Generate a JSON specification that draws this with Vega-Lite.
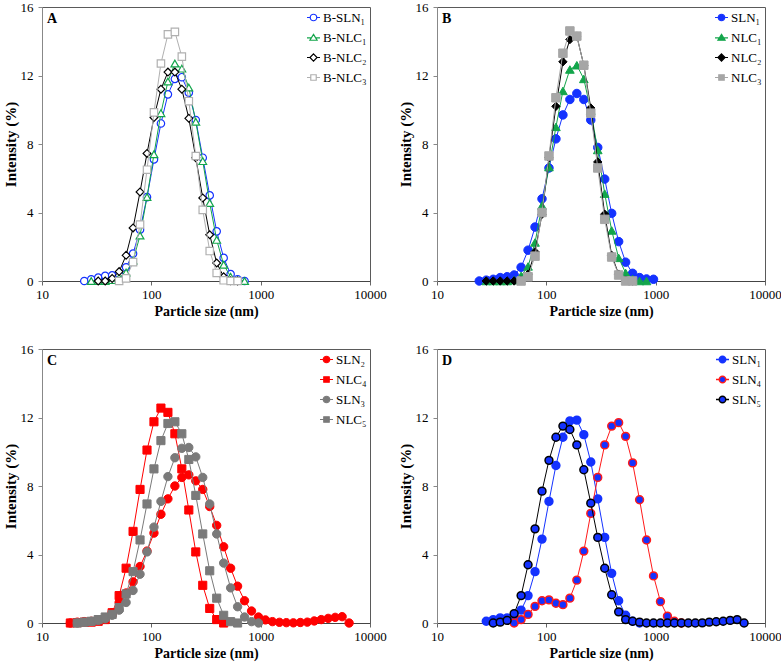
{
  "$schema": "https://vega.github.io/schema/vega-lite/v6.json",
  "autosize": {"type": "pad"},
  "padding": {"left": 2, "top": 0, "right": 5, "bottom": 5},
  "background": "white",
  "datasets": {
    "A": [
      {"size": 24.36, "intensity": 0, "sample": "B-SLN₁"}, {"size": 28.21, "intensity": 0.1, "sample": "B-SLN₁"}, {"size": 32.67, "intensity": 0.2, "sample": "B-SLN₁"}, {"size": 37.84, "intensity": 0.3, "sample": "B-SLN₁"}, {"size": 43.82, "intensity": 0.33, "sample": "B-SLN₁"}, {"size": 50.75, "intensity": 0.4, "sample": "B-SLN₁"}, {"size": 58.77, "intensity": 0.8, "sample": "B-SLN₁"}, {"size": 68.06, "intensity": 1.6, "sample": "B-SLN₁"}, {"size": 78.82, "intensity": 3.0, "sample": "B-SLN₁"}, {"size": 91.28, "intensity": 4.9, "sample": "B-SLN₁"}, {"size": 105.7, "intensity": 7.1, "sample": "B-SLN₁"}, {"size": 122.4, "intensity": 9.2, "sample": "B-SLN₁"}, {"size": 141.8, "intensity": 10.9, "sample": "B-SLN₁"}, {"size": 164.2, "intensity": 11.8, "sample": "B-SLN₁"}, {"size": 190.1, "intensity": 11.9, "sample": "B-SLN₁"}, {"size": 220.2, "intensity": 11.0, "sample": "B-SLN₁"}, {"size": 255.0, "intensity": 9.4, "sample": "B-SLN₁"}, {"size": 295.3, "intensity": 7.2, "sample": "B-SLN₁"}, {"size": 342.0, "intensity": 5.0, "sample": "B-SLN₁"}, {"size": 396.1, "intensity": 2.9, "sample": "B-SLN₁"}, {"size": 458.7, "intensity": 1.35, "sample": "B-SLN₁"}, {"size": 531.2, "intensity": 0.4, "sample": "B-SLN₁"}, {"size": 615.1, "intensity": 0.1, "sample": "B-SLN₁"}, {"size": 712.4, "intensity": 0, "sample": "B-SLN₁"},
      {"size": 28.21, "intensity": 0, "sample": "B-NLC₁"}, {"size": 32.67, "intensity": 0, "sample": "B-NLC₁"}, {"size": 37.84, "intensity": 0, "sample": "B-NLC₁"}, {"size": 43.82, "intensity": 0.05, "sample": "B-NLC₁"}, {"size": 50.75, "intensity": 0.2, "sample": "B-NLC₁"}, {"size": 58.77, "intensity": 0.5, "sample": "B-NLC₁"}, {"size": 68.06, "intensity": 1.2, "sample": "B-NLC₁"}, {"size": 78.82, "intensity": 2.65, "sample": "B-NLC₁"}, {"size": 91.28, "intensity": 4.9, "sample": "B-NLC₁"}, {"size": 105.7, "intensity": 7.4, "sample": "B-NLC₁"}, {"size": 122.4, "intensity": 9.8, "sample": "B-NLC₁"}, {"size": 141.8, "intensity": 11.65, "sample": "B-NLC₁"}, {"size": 164.2, "intensity": 12.7, "sample": "B-NLC₁"}, {"size": 190.1, "intensity": 12.4, "sample": "B-NLC₁"}, {"size": 220.2, "intensity": 11.3, "sample": "B-NLC₁"}, {"size": 255.0, "intensity": 9.3, "sample": "B-NLC₁"}, {"size": 295.3, "intensity": 7.0, "sample": "B-NLC₁"}, {"size": 342.0, "intensity": 4.55, "sample": "B-NLC₁"}, {"size": 396.1, "intensity": 2.4, "sample": "B-NLC₁"}, {"size": 458.7, "intensity": 0.95, "sample": "B-NLC₁"}, {"size": 531.2, "intensity": 0.25, "sample": "B-NLC₁"}, {"size": 615.1, "intensity": 0.05, "sample": "B-NLC₁"}, {"size": 712.4, "intensity": 0, "sample": "B-NLC₁"},
      {"size": 32.67, "intensity": 0, "sample": "B-NLC₂"}, {"size": 37.84, "intensity": 0, "sample": "B-NLC₂"}, {"size": 43.82, "intensity": 0.15, "sample": "B-NLC₂"}, {"size": 50.75, "intensity": 0.55, "sample": "B-NLC₂"}, {"size": 58.77, "intensity": 1.5, "sample": "B-NLC₂"}, {"size": 68.06, "intensity": 3.1, "sample": "B-NLC₂"}, {"size": 78.82, "intensity": 5.2, "sample": "B-NLC₂"}, {"size": 91.28, "intensity": 7.45, "sample": "B-NLC₂"}, {"size": 105.7, "intensity": 9.55, "sample": "B-NLC₂"}, {"size": 122.4, "intensity": 11.2, "sample": "B-NLC₂"}, {"size": 141.8, "intensity": 12.2, "sample": "B-NLC₂"}, {"size": 164.2, "intensity": 12.2, "sample": "B-NLC₂"}, {"size": 190.1, "intensity": 11.2, "sample": "B-NLC₂"}, {"size": 220.2, "intensity": 9.5, "sample": "B-NLC₂"}, {"size": 255.0, "intensity": 7.2, "sample": "B-NLC₂"}, {"size": 295.3, "intensity": 4.85, "sample": "B-NLC₂"}, {"size": 342.0, "intensity": 2.7, "sample": "B-NLC₂"}, {"size": 396.1, "intensity": 1.05, "sample": "B-NLC₂"}, {"size": 458.7, "intensity": 0.25, "sample": "B-NLC₂"}, {"size": 531.2, "intensity": 0.02, "sample": "B-NLC₂"}, {"size": 615.1, "intensity": 0, "sample": "B-NLC₂"},
      {"size": 50.75, "intensity": 0, "sample": "B-NLC₃"}, {"size": 58.77, "intensity": 0.15, "sample": "B-NLC₃"}, {"size": 68.06, "intensity": 1.1, "sample": "B-NLC₃"}, {"size": 78.82, "intensity": 3.3, "sample": "B-NLC₃"}, {"size": 91.28, "intensity": 6.5, "sample": "B-NLC₃"}, {"size": 105.7, "intensity": 9.85, "sample": "B-NLC₃"}, {"size": 122.4, "intensity": 12.7, "sample": "B-NLC₃"}, {"size": 141.8, "intensity": 14.4, "sample": "B-NLC₃"}, {"size": 164.2, "intensity": 14.55, "sample": "B-NLC₃"}, {"size": 190.1, "intensity": 13.1, "sample": "B-NLC₃"}, {"size": 220.2, "intensity": 10.5, "sample": "B-NLC₃"}, {"size": 255.0, "intensity": 7.3, "sample": "B-NLC₃"}, {"size": 295.3, "intensity": 4.15, "sample": "B-NLC₃"}, {"size": 342.0, "intensity": 1.75, "sample": "B-NLC₃"}, {"size": 396.1, "intensity": 0.47, "sample": "B-NLC₃"}, {"size": 458.7, "intensity": 0.04, "sample": "B-NLC₃"}, {"size": 531.2, "intensity": 0, "sample": "B-NLC₃"}, {"size": 615.1, "intensity": 0, "sample": "B-NLC₃"}
    ],
    "B": [
      {"size": 24.36, "intensity": 0, "sample": "SLN₁"}, {"size": 28.21, "intensity": 0.05, "sample": "SLN₁"}, {"size": 32.67, "intensity": 0.1, "sample": "SLN₁"}, {"size": 37.84, "intensity": 0.2, "sample": "SLN₁"}, {"size": 43.82, "intensity": 0.25, "sample": "SLN₁"}, {"size": 50.75, "intensity": 0.35, "sample": "SLN₁"}, {"size": 58.77, "intensity": 0.8, "sample": "SLN₁"}, {"size": 68.06, "intensity": 1.8, "sample": "SLN₁"}, {"size": 78.82, "intensity": 3.15, "sample": "SLN₁"}, {"size": 91.28, "intensity": 4.8, "sample": "SLN₁"}, {"size": 105.7, "intensity": 6.6, "sample": "SLN₁"}, {"size": 122.4, "intensity": 8.3, "sample": "SLN₁"}, {"size": 141.8, "intensity": 9.7, "sample": "SLN₁"}, {"size": 164.2, "intensity": 10.6, "sample": "SLN₁"}, {"size": 190.1, "intensity": 10.95, "sample": "SLN₁"}, {"size": 220.2, "intensity": 10.6, "sample": "SLN₁"}, {"size": 255.0, "intensity": 9.4, "sample": "SLN₁"}, {"size": 295.3, "intensity": 7.8, "sample": "SLN₁"}, {"size": 342.0, "intensity": 5.95, "sample": "SLN₁"}, {"size": 396.1, "intensity": 3.95, "sample": "SLN₁"}, {"size": 458.7, "intensity": 2.3, "sample": "SLN₁"}, {"size": 531.2, "intensity": 1.1, "sample": "SLN₁"}, {"size": 615.1, "intensity": 0.45, "sample": "SLN₁"}, {"size": 712.4, "intensity": 0.2, "sample": "SLN₁"}, {"size": 825.0, "intensity": 0.12, "sample": "SLN₁"}, {"size": 955.4, "intensity": 0.1, "sample": "SLN₁"},
      {"size": 28.21, "intensity": 0, "sample": "NLC₁"}, {"size": 32.67, "intensity": 0, "sample": "NLC₁"}, {"size": 37.84, "intensity": 0, "sample": "NLC₁"}, {"size": 43.82, "intensity": 0, "sample": "NLC₁"}, {"size": 50.75, "intensity": 0.05, "sample": "NLC₁"}, {"size": 58.77, "intensity": 0.3, "sample": "NLC₁"}, {"size": 68.06, "intensity": 0.85, "sample": "NLC₁"}, {"size": 78.82, "intensity": 2.25, "sample": "NLC₁"}, {"size": 91.28, "intensity": 4.4, "sample": "NLC₁"}, {"size": 105.7, "intensity": 6.65, "sample": "NLC₁"}, {"size": 122.4, "intensity": 9.0, "sample": "NLC₁"}, {"size": 141.8, "intensity": 11.1, "sample": "NLC₁"}, {"size": 164.2, "intensity": 12.35, "sample": "NLC₁"}, {"size": 190.1, "intensity": 12.6, "sample": "NLC₁"}, {"size": 220.2, "intensity": 11.8, "sample": "NLC₁"}, {"size": 255.0, "intensity": 9.95, "sample": "NLC₁"}, {"size": 295.3, "intensity": 7.65, "sample": "NLC₁"}, {"size": 342.0, "intensity": 5.1, "sample": "NLC₁"}, {"size": 396.1, "intensity": 2.95, "sample": "NLC₁"}, {"size": 458.7, "intensity": 1.35, "sample": "NLC₁"}, {"size": 531.2, "intensity": 0.47, "sample": "NLC₁"}, {"size": 615.1, "intensity": 0.12, "sample": "NLC₁"}, {"size": 712.4, "intensity": 0, "sample": "NLC₁"}, {"size": 825.0, "intensity": 0, "sample": "NLC₁"},
      {"size": 28.21, "intensity": 0, "sample": "NLC₂"}, {"size": 32.67, "intensity": 0, "sample": "NLC₂"}, {"size": 37.84, "intensity": 0, "sample": "NLC₂"}, {"size": 43.82, "intensity": 0, "sample": "NLC₂"}, {"size": 50.75, "intensity": 0, "sample": "NLC₂"}, {"size": 58.77, "intensity": 0.05, "sample": "NLC₂"}, {"size": 68.06, "intensity": 0.4, "sample": "NLC₂"}, {"size": 78.82, "intensity": 1.7, "sample": "NLC₂"}, {"size": 91.28, "intensity": 3.9, "sample": "NLC₂"}, {"size": 105.7, "intensity": 7.2, "sample": "NLC₂"}, {"size": 122.4, "intensity": 10.2, "sample": "NLC₂"}, {"size": 141.8, "intensity": 12.8, "sample": "NLC₂"}, {"size": 164.2, "intensity": 14.1, "sample": "NLC₂"}, {"size": 190.1, "intensity": 14.3, "sample": "NLC₂"}, {"size": 220.2, "intensity": 12.6, "sample": "NLC₂"}, {"size": 255.0, "intensity": 10.1, "sample": "NLC₂"}, {"size": 295.3, "intensity": 6.95, "sample": "NLC₂"}, {"size": 342.0, "intensity": 3.9, "sample": "NLC₂"}, {"size": 396.1, "intensity": 1.5, "sample": "NLC₂"}, {"size": 458.7, "intensity": 0.4, "sample": "NLC₂"}, {"size": 531.2, "intensity": 0.05, "sample": "NLC₂"}, {"size": 615.1, "intensity": 0, "sample": "NLC₂"},
      {"size": 58.77, "intensity": 0, "sample": "NLC₃"}, {"size": 68.06, "intensity": 0.25, "sample": "NLC₃"}, {"size": 78.82, "intensity": 1.45, "sample": "NLC₃"}, {"size": 91.28, "intensity": 4.0, "sample": "NLC₃"}, {"size": 105.7, "intensity": 7.3, "sample": "NLC₃"}, {"size": 122.4, "intensity": 10.7, "sample": "NLC₃"}, {"size": 141.8, "intensity": 13.3, "sample": "NLC₃"}, {"size": 164.2, "intensity": 14.6, "sample": "NLC₃"}, {"size": 190.1, "intensity": 14.3, "sample": "NLC₃"}, {"size": 220.2, "intensity": 12.6, "sample": "NLC₃"}, {"size": 255.0, "intensity": 9.8, "sample": "NLC₃"}, {"size": 295.3, "intensity": 6.6, "sample": "NLC₃"}, {"size": 342.0, "intensity": 3.6, "sample": "NLC₃"}, {"size": 396.1, "intensity": 1.4, "sample": "NLC₃"}, {"size": 458.7, "intensity": 0.35, "sample": "NLC₃"}, {"size": 531.2, "intensity": 0, "sample": "NLC₃"}, {"size": 615.1, "intensity": 0, "sample": "NLC₃"}
    ],
    "C": [
      {"size": 18.17, "intensity": 0, "sample": "SLN₂"}, {"size": 21.04, "intensity": 0.05, "sample": "SLN₂"}, {"size": 24.36, "intensity": 0.08, "sample": "SLN₂"}, {"size": 28.21, "intensity": 0.1, "sample": "SLN₂"}, {"size": 32.67, "intensity": 0.15, "sample": "SLN₂"}, {"size": 37.84, "intensity": 0.3, "sample": "SLN₂"}, {"size": 43.82, "intensity": 0.6, "sample": "SLN₂"}, {"size": 50.75, "intensity": 1.2, "sample": "SLN₂"}, {"size": 58.77, "intensity": 1.75, "sample": "SLN₂"}, {"size": 68.06, "intensity": 2.4, "sample": "SLN₂"}, {"size": 78.82, "intensity": 3.3, "sample": "SLN₂"}, {"size": 91.28, "intensity": 4.2, "sample": "SLN₂"}, {"size": 105.7, "intensity": 5.25, "sample": "SLN₂"}, {"size": 122.4, "intensity": 6.35, "sample": "SLN₂"}, {"size": 141.8, "intensity": 7.25, "sample": "SLN₂"}, {"size": 164.2, "intensity": 8.0, "sample": "SLN₂"}, {"size": 190.1, "intensity": 8.5, "sample": "SLN₂"}, {"size": 220.2, "intensity": 8.65, "sample": "SLN₂"}, {"size": 255.0, "intensity": 8.3, "sample": "SLN₂"}, {"size": 295.3, "intensity": 7.8, "sample": "SLN₂"}, {"size": 342.0, "intensity": 6.8, "sample": "SLN₂"}, {"size": 396.1, "intensity": 5.7, "sample": "SLN₂"}, {"size": 458.7, "intensity": 4.45, "sample": "SLN₂"}, {"size": 531.2, "intensity": 3.2, "sample": "SLN₂"}, {"size": 615.1, "intensity": 2.15, "sample": "SLN₂"}, {"size": 712.4, "intensity": 1.3, "sample": "SLN₂"}, {"size": 825.0, "intensity": 0.7, "sample": "SLN₂"}, {"size": 955.4, "intensity": 0.35, "sample": "SLN₂"}, {"size": 1106, "intensity": 0.18, "sample": "SLN₂"}, {"size": 1281, "intensity": 0.08, "sample": "SLN₂"}, {"size": 1484, "intensity": 0.04, "sample": "SLN₂"}, {"size": 1718, "intensity": 0.02, "sample": "SLN₂"}, {"size": 1990, "intensity": 0.01, "sample": "SLN₂"}, {"size": 2305, "intensity": 0.03, "sample": "SLN₂"}, {"size": 2669, "intensity": 0.05, "sample": "SLN₂"}, {"size": 3091, "intensity": 0.12, "sample": "SLN₂"}, {"size": 3580, "intensity": 0.2, "sample": "SLN₂"}, {"size": 4145, "intensity": 0.27, "sample": "SLN₂"}, {"size": 4801, "intensity": 0.33, "sample": "SLN₂"}, {"size": 5560, "intensity": 0.37, "sample": "SLN₂"}, {"size": 6439, "intensity": 0, "sample": "SLN₂"},
      {"size": 18.17, "intensity": 0, "sample": "NLC₄"}, {"size": 21.04, "intensity": 0.02, "sample": "NLC₄"}, {"size": 24.36, "intensity": 0.05, "sample": "NLC₄"}, {"size": 28.21, "intensity": 0.05, "sample": "NLC₄"}, {"size": 32.67, "intensity": 0.1, "sample": "NLC₄"}, {"size": 37.84, "intensity": 0.2, "sample": "NLC₄"}, {"size": 43.82, "intensity": 0.6, "sample": "NLC₄"}, {"size": 50.75, "intensity": 1.6, "sample": "NLC₄"}, {"size": 58.77, "intensity": 3.2, "sample": "NLC₄"}, {"size": 68.06, "intensity": 5.35, "sample": "NLC₄"}, {"size": 78.82, "intensity": 7.8, "sample": "NLC₄"}, {"size": 91.28, "intensity": 10.1, "sample": "NLC₄"}, {"size": 105.7, "intensity": 11.75, "sample": "NLC₄"}, {"size": 122.4, "intensity": 12.55, "sample": "NLC₄"}, {"size": 141.8, "intensity": 12.3, "sample": "NLC₄"}, {"size": 164.2, "intensity": 11.05, "sample": "NLC₄"}, {"size": 190.1, "intensity": 9.0, "sample": "NLC₄"}, {"size": 220.2, "intensity": 6.6, "sample": "NLC₄"}, {"size": 255.0, "intensity": 4.15, "sample": "NLC₄"}, {"size": 295.3, "intensity": 2.2, "sample": "NLC₄"}, {"size": 342.0, "intensity": 0.85, "sample": "NLC₄"}, {"size": 396.1, "intensity": 0.2, "sample": "NLC₄"}, {"size": 458.7, "intensity": 0, "sample": "NLC₄"},
      {"size": 21.04, "intensity": 0, "sample": "SLN₃"}, {"size": 24.36, "intensity": 0.05, "sample": "SLN₃"}, {"size": 28.21, "intensity": 0.1, "sample": "SLN₃"}, {"size": 32.67, "intensity": 0.15, "sample": "SLN₃"}, {"size": 37.84, "intensity": 0.25, "sample": "SLN₃"}, {"size": 43.82, "intensity": 0.45, "sample": "SLN₃"}, {"size": 50.75, "intensity": 0.75, "sample": "SLN₃"}, {"size": 58.77, "intensity": 1.2, "sample": "SLN₃"}, {"size": 68.06, "intensity": 1.9, "sample": "SLN₃"}, {"size": 78.82, "intensity": 2.85, "sample": "SLN₃"}, {"size": 91.28, "intensity": 4.15, "sample": "SLN₃"}, {"size": 105.7, "intensity": 5.6, "sample": "SLN₃"}, {"size": 122.4, "intensity": 7.1, "sample": "SLN₃"}, {"size": 141.8, "intensity": 8.55, "sample": "SLN₃"}, {"size": 164.2, "intensity": 9.65, "sample": "SLN₃"}, {"size": 190.1, "intensity": 10.2, "sample": "SLN₃"}, {"size": 220.2, "intensity": 10.25, "sample": "SLN₃"}, {"size": 255.0, "intensity": 9.7, "sample": "SLN₃"}, {"size": 295.3, "intensity": 8.5, "sample": "SLN₃"}, {"size": 342.0, "intensity": 6.95, "sample": "SLN₃"}, {"size": 396.1, "intensity": 5.2, "sample": "SLN₃"}, {"size": 458.7, "intensity": 3.5, "sample": "SLN₃"}, {"size": 531.2, "intensity": 2.05, "sample": "SLN₃"}, {"size": 615.1, "intensity": 0.95, "sample": "SLN₃"}, {"size": 712.4, "intensity": 0.35, "sample": "SLN₃"}, {"size": 825.0, "intensity": 0.08, "sample": "SLN₃"}, {"size": 955.4, "intensity": 0, "sample": "SLN₃"},
      {"size": 21.04, "intensity": 0, "sample": "NLC₅"}, {"size": 24.36, "intensity": 0.05, "sample": "NLC₅"}, {"size": 28.21, "intensity": 0.1, "sample": "NLC₅"}, {"size": 32.67, "intensity": 0.2, "sample": "NLC₅"}, {"size": 37.84, "intensity": 0.35, "sample": "NLC₅"}, {"size": 43.82, "intensity": 0.5, "sample": "NLC₅"}, {"size": 50.75, "intensity": 0.9, "sample": "NLC₅"}, {"size": 58.77, "intensity": 1.7, "sample": "NLC₅"}, {"size": 68.06, "intensity": 3.0, "sample": "NLC₅"}, {"size": 78.82, "intensity": 4.85, "sample": "NLC₅"}, {"size": 91.28, "intensity": 6.95, "sample": "NLC₅"}, {"size": 105.7, "intensity": 9.0, "sample": "NLC₅"}, {"size": 122.4, "intensity": 10.65, "sample": "NLC₅"}, {"size": 141.8, "intensity": 11.65, "sample": "NLC₅"}, {"size": 164.2, "intensity": 11.75, "sample": "NLC₅"}, {"size": 190.1, "intensity": 11.05, "sample": "NLC₅"}, {"size": 220.2, "intensity": 9.55, "sample": "NLC₅"}, {"size": 255.0, "intensity": 7.45, "sample": "NLC₅"}, {"size": 295.3, "intensity": 5.2, "sample": "NLC₅"}, {"size": 342.0, "intensity": 3.05, "sample": "NLC₅"}, {"size": 396.1, "intensity": 1.45, "sample": "NLC₅"}, {"size": 458.7, "intensity": 0.45, "sample": "NLC₅"}, {"size": 531.2, "intensity": 0.08, "sample": "NLC₅"}, {"size": 615.1, "intensity": 0, "sample": "NLC₅"}
    ],
    "D": [
      {"size": 28.21, "intensity": 0.1, "sample": "SLN₁"}, {"size": 32.67, "intensity": 0.2, "sample": "SLN₁"}, {"size": 37.84, "intensity": 0.3, "sample": "SLN₁"}, {"size": 43.82, "intensity": 0.3, "sample": "SLN₁"}, {"size": 50.75, "intensity": 0.4, "sample": "SLN₁"}, {"size": 58.77, "intensity": 0.75, "sample": "SLN₁"}, {"size": 68.06, "intensity": 1.6, "sample": "SLN₁"}, {"size": 78.82, "intensity": 3.0, "sample": "SLN₁"}, {"size": 91.28, "intensity": 4.9, "sample": "SLN₁"}, {"size": 105.7, "intensity": 7.1, "sample": "SLN₁"}, {"size": 122.4, "intensity": 9.2, "sample": "SLN₁"}, {"size": 141.8, "intensity": 10.85, "sample": "SLN₁"}, {"size": 164.2, "intensity": 11.8, "sample": "SLN₁"}, {"size": 190.1, "intensity": 11.85, "sample": "SLN₁"}, {"size": 220.2, "intensity": 11.0, "sample": "SLN₁"}, {"size": 255.0, "intensity": 9.4, "sample": "SLN₁"}, {"size": 295.3, "intensity": 7.25, "sample": "SLN₁"}, {"size": 342.0, "intensity": 5.0, "sample": "SLN₁"}, {"size": 396.1, "intensity": 2.9, "sample": "SLN₁"}, {"size": 458.7, "intensity": 1.3, "sample": "SLN₁"}, {"size": 531.2, "intensity": 0.45, "sample": "SLN₁"}, {"size": 615.1, "intensity": 0.1, "sample": "SLN₁"}, {"size": 712.4, "intensity": 0, "sample": "SLN₁"},
      {"size": 50.75, "intensity": 0, "sample": "SLN₄"}, {"size": 58.77, "intensity": 0.2, "sample": "SLN₄"}, {"size": 68.06, "intensity": 0.5, "sample": "SLN₄"}, {"size": 78.82, "intensity": 0.97, "sample": "SLN₄"}, {"size": 91.28, "intensity": 1.3, "sample": "SLN₄"}, {"size": 105.7, "intensity": 1.35, "sample": "SLN₄"}, {"size": 122.4, "intensity": 1.15, "sample": "SLN₄"}, {"size": 141.8, "intensity": 1.07, "sample": "SLN₄"}, {"size": 164.2, "intensity": 1.45, "sample": "SLN₄"}, {"size": 190.1, "intensity": 2.5, "sample": "SLN₄"}, {"size": 220.2, "intensity": 4.2, "sample": "SLN₄"}, {"size": 255.0, "intensity": 6.4, "sample": "SLN₄"}, {"size": 295.3, "intensity": 8.5, "sample": "SLN₄"}, {"size": 342.0, "intensity": 10.4, "sample": "SLN₄"}, {"size": 396.1, "intensity": 11.5, "sample": "SLN₄"}, {"size": 458.7, "intensity": 11.7, "sample": "SLN₄"}, {"size": 531.2, "intensity": 10.9, "sample": "SLN₄"}, {"size": 615.1, "intensity": 9.35, "sample": "SLN₄"}, {"size": 712.4, "intensity": 7.2, "sample": "SLN₄"}, {"size": 825.0, "intensity": 4.85, "sample": "SLN₄"}, {"size": 955.4, "intensity": 2.75, "sample": "SLN₄"}, {"size": 1106, "intensity": 1.25, "sample": "SLN₄"}, {"size": 1281, "intensity": 0.4, "sample": "SLN₄"}, {"size": 1484, "intensity": 0.1, "sample": "SLN₄"}, {"size": 1718, "intensity": 0, "sample": "SLN₄"},
      {"size": 32.67, "intensity": 0, "sample": "SLN₅"}, {"size": 37.84, "intensity": 0.05, "sample": "SLN₅"}, {"size": 43.82, "intensity": 0.15, "sample": "SLN₅"}, {"size": 50.75, "intensity": 0.55, "sample": "SLN₅"}, {"size": 58.77, "intensity": 1.6, "sample": "SLN₅"}, {"size": 68.06, "intensity": 3.4, "sample": "SLN₅"}, {"size": 78.82, "intensity": 5.5, "sample": "SLN₅"}, {"size": 91.28, "intensity": 7.7, "sample": "SLN₅"}, {"size": 105.7, "intensity": 9.5, "sample": "SLN₅"}, {"size": 122.4, "intensity": 10.85, "sample": "SLN₅"}, {"size": 141.8, "intensity": 11.5, "sample": "SLN₅"}, {"size": 164.2, "intensity": 11.3, "sample": "SLN₅"}, {"size": 190.1, "intensity": 10.4, "sample": "SLN₅"}, {"size": 220.2, "intensity": 8.95, "sample": "SLN₅"}, {"size": 255.0, "intensity": 7.0, "sample": "SLN₅"}, {"size": 295.3, "intensity": 5.0, "sample": "SLN₅"}, {"size": 342.0, "intensity": 3.2, "sample": "SLN₅"}, {"size": 396.1, "intensity": 1.65, "sample": "SLN₅"}, {"size": 458.7, "intensity": 0.65, "sample": "SLN₅"}, {"size": 531.2, "intensity": 0.2, "sample": "SLN₅"}, {"size": 615.1, "intensity": 0.1, "sample": "SLN₅"}, {"size": 712.4, "intensity": 0.05, "sample": "SLN₅"}, {"size": 825.0, "intensity": 0, "sample": "SLN₅"}, {"size": 955.4, "intensity": 0, "sample": "SLN₅"}, {"size": 1106, "intensity": 0, "sample": "SLN₅"}, {"size": 1281, "intensity": 0, "sample": "SLN₅"}, {"size": 1484, "intensity": 0, "sample": "SLN₅"}, {"size": 1718, "intensity": 0, "sample": "SLN₅"}, {"size": 1990, "intensity": 0, "sample": "SLN₅"}, {"size": 2305, "intensity": 0, "sample": "SLN₅"}, {"size": 2669, "intensity": 0.01, "sample": "SLN₅"}, {"size": 3091, "intensity": 0.05, "sample": "SLN₅"}, {"size": 3580, "intensity": 0.07, "sample": "SLN₅"}, {"size": 4145, "intensity": 0.1, "sample": "SLN₅"}, {"size": 4801, "intensity": 0.15, "sample": "SLN₅"}, {"size": 5560, "intensity": 0.2, "sample": "SLN₅"}, {"size": 6439, "intensity": 0, "sample": "SLN₅"}
    ]
  },
  "columns": 2,
  "spacing": {"row": 68, "column": 67},
  "bounds": "flush",
  "concat": [
    {
      "width": 328, "height": 274,
      "data": {"name": "A"},
      "layer": [
        {"transform": [{"filter": {"field": "sample", "equal": "B-SLN₁"}}], "mark": {"type": "line", "stroke": "#1432ff", "strokeWidth": 1},
         "encoding": {
           "x": {"field": "size", "type": "quantitative", "scale": {"type": "log", "domain": [10, 10000]}, "axis": {"title": "Particle size (nm)", "values": [10, 100, 1000, 10000], "format": "d"}},
           "y": {"field": "intensity", "type": "quantitative", "scale": {"domain": [0, 16], "nice": false}, "axis": {"title": "Intensity (%)", "values": [0, 2, 4, 6, 8, 10, 12, 14, 16], "format": "d", "labelExpr": "datum.value % 4 === 0 ? datum.label : ''"}}}},
        {"transform": [{"filter": {"field": "sample", "equal": "B-SLN₁"}}], "mark": {"type": "point", "shape": "circle", "filled": true, "fill": "#ffffff", "stroke": "#1432ff", "opacity": 1, "size": 55, "strokeWidth": 1.2}, "encoding": {"x": {"field": "size", "type": "quantitative"}, "y": {"field": "intensity", "type": "quantitative"}}},
        {"transform": [{"filter": {"field": "sample", "equal": "B-NLC₁"}}], "mark": {"type": "line", "stroke": "#13a54b", "strokeWidth": 1}, "encoding": {"x": {"field": "size", "type": "quantitative"}, "y": {"field": "intensity", "type": "quantitative"}}},
        {"transform": [{"filter": {"field": "sample", "equal": "B-NLC₁"}}], "mark": {"type": "point", "shape": "triangle-up", "filled": true, "fill": "#ffffff", "stroke": "#13a54b", "opacity": 1, "size": 60, "strokeWidth": 1.2}, "encoding": {"x": {"field": "size", "type": "quantitative"}, "y": {"field": "intensity", "type": "quantitative"}}},
        {"transform": [{"filter": {"field": "sample", "equal": "B-NLC₂"}}], "mark": {"type": "line", "stroke": "#000000", "strokeWidth": 1}, "encoding": {"x": {"field": "size", "type": "quantitative"}, "y": {"field": "intensity", "type": "quantitative"}}},
        {"transform": [{"filter": {"field": "sample", "equal": "B-NLC₂"}}], "mark": {"type": "point", "shape": "diamond", "filled": true, "fill": "#ffffff", "stroke": "#000000", "opacity": 1, "size": 60, "strokeWidth": 1.2}, "encoding": {"x": {"field": "size", "type": "quantitative"}, "y": {"field": "intensity", "type": "quantitative"}}},
        {"transform": [{"filter": {"field": "sample", "equal": "B-NLC₃"}}], "mark": {"type": "line", "stroke": "#b0b0b0", "strokeWidth": 1}, "encoding": {"x": {"field": "size", "type": "quantitative"}, "y": {"field": "intensity", "type": "quantitative"}}},
        {"transform": [{"filter": {"field": "sample", "equal": "B-NLC₃"}}], "mark": {"type": "point", "shape": "square", "filled": true, "fill": "#ffffff", "stroke": "#b0b0b0", "opacity": 1, "size": 55, "strokeWidth": 1.2}, "encoding": {"x": {"field": "size", "type": "quantitative"}, "y": {"field": "intensity", "type": "quantitative"}}},
        {"transform": [{"filter": "false"}],
         "mark": {"type": "point", "filled": true, "fill": "#ffffff", "opacity": 1, "strokeWidth": 1.2},
         "encoding": {
           "x": {"field": "size", "type": "quantitative"}, "y": {"field": "intensity", "type": "quantitative"},
           "shape": {"field": "sample", "type": "nominal", "scale": {"domain": ["B-SLN₁", "B-NLC₁", "B-NLC₂", "B-NLC₃"], "range": ["M-1,0H-0.5M0.5,0H1M-0.5,0A0.5,0.5,0,1,1,0.5,0A0.5,0.5,0,1,1,-0.5,0Z", "M-1,0.05H-0.3M0.3,0.05H1M0,-0.48L0.55,0.42H-0.55Z", "M-1,0H-0.55M0.55,0H1M0,-0.55L0.55,0L0,0.55L-0.55,0Z", "M-1,0H-0.42M0.42,0H1M-0.42,-0.42H0.42V0.42H-0.42Z"]},
             "legend": {"title": null, "orient": "top-right", "offset": 3, "padding": 0, "labelFont": "Liberation Serif", "labelFontSize": 13, "labelColor": "#000000", "symbolSize": 169, "rowPadding": 5, "labelOffset": 2, "symbolStrokeWidth": 1.2, "symbolOpacity": 1, "symbolFillColor": "#ffffff"}},
           "stroke": {"field": "sample", "type": "nominal", "scale": {"domain": ["B-SLN₁", "B-NLC₁", "B-NLC₂", "B-NLC₃"], "range": ["#1432ff", "#13a54b", "#000000", "#b0b0b0"]},
             "legend": {"title": null, "orient": "top-right", "offset": 3, "padding": 0, "labelFont": "Liberation Serif", "labelFontSize": 13, "labelColor": "#000000", "symbolSize": 169, "rowPadding": 5, "labelOffset": 2, "symbolStrokeWidth": 1.2, "symbolOpacity": 1, "symbolFillColor": "#ffffff"}}
         }},
        {"data": {"values": [{"t": "A", "px": 11.1, "py": 15.05}]},
         "mark": {"type": "text", "align": "left", "baseline": "alphabetic", "fontSize": 14, "fontWeight": "bold", "font": "Liberation Serif", "fill": "#000000", "opacity": 1},
         "encoding": {"x": {"field": "px", "type": "quantitative"}, "y": {"field": "py", "type": "quantitative"}, "text": {"field": "t", "type": "nominal"}}}
      ]
    },
    {
      "width": 328, "height": 274,
      "data": {"name": "B"},
      "layer": [
        {"transform": [{"filter": {"field": "sample", "equal": "SLN₁"}}], "mark": {"type": "line", "stroke": "#1432ff", "strokeWidth": 1},
         "encoding": {
           "x": {"field": "size", "type": "quantitative", "scale": {"type": "log", "domain": [10, 10000]}, "axis": {"title": "Particle size (nm)", "values": [10, 100, 1000, 10000], "format": "d"}},
           "y": {"field": "intensity", "type": "quantitative", "scale": {"domain": [0, 16], "nice": false}, "axis": {"title": "Intensity (%)", "values": [0, 2, 4, 6, 8, 10, 12, 14, 16], "format": "d", "labelExpr": "datum.value % 4 === 0 ? datum.label : ''"}}}},
        {"transform": [{"filter": {"field": "sample", "equal": "SLN₁"}}], "mark": {"type": "point", "shape": "circle", "filled": true, "fill": "#1432ff", "stroke": "#1432ff", "opacity": 1, "size": 72, "strokeWidth": 1}, "encoding": {"x": {"field": "size", "type": "quantitative"}, "y": {"field": "intensity", "type": "quantitative"}}},
        {"transform": [{"filter": {"field": "sample", "equal": "NLC₁"}}], "mark": {"type": "line", "stroke": "#13a54b", "strokeWidth": 1}, "encoding": {"x": {"field": "size", "type": "quantitative"}, "y": {"field": "intensity", "type": "quantitative"}}},
        {"transform": [{"filter": {"field": "sample", "equal": "NLC₁"}}], "mark": {"type": "point", "shape": "triangle-up", "filled": true, "fill": "#13a54b", "stroke": "#13a54b", "opacity": 1, "size": 75, "strokeWidth": 1}, "encoding": {"x": {"field": "size", "type": "quantitative"}, "y": {"field": "intensity", "type": "quantitative"}}},
        {"transform": [{"filter": {"field": "sample", "equal": "NLC₂"}}], "mark": {"type": "line", "stroke": "#000000", "strokeWidth": 1}, "encoding": {"x": {"field": "size", "type": "quantitative"}, "y": {"field": "intensity", "type": "quantitative"}}},
        {"transform": [{"filter": {"field": "sample", "equal": "NLC₂"}}], "mark": {"type": "point", "shape": "diamond", "filled": true, "fill": "#000000", "stroke": "#000000", "opacity": 1, "size": 70, "strokeWidth": 1}, "encoding": {"x": {"field": "size", "type": "quantitative"}, "y": {"field": "intensity", "type": "quantitative"}}},
        {"transform": [{"filter": {"field": "sample", "equal": "NLC₃"}}], "mark": {"type": "line", "stroke": "#a6a6a6", "strokeWidth": 1}, "encoding": {"x": {"field": "size", "type": "quantitative"}, "y": {"field": "intensity", "type": "quantitative"}}},
        {"transform": [{"filter": {"field": "sample", "equal": "NLC₃"}}], "mark": {"type": "point", "shape": "square", "filled": true, "fill": "#a6a6a6", "stroke": "#a6a6a6", "opacity": 1, "size": 72, "strokeWidth": 1}, "encoding": {"x": {"field": "size", "type": "quantitative"}, "y": {"field": "intensity", "type": "quantitative"}}},
        {"transform": [{"filter": "false"}],
         "mark": {"type": "point", "filled": true, "opacity": 1, "strokeWidth": 1.2},
         "encoding": {
           "x": {"field": "size", "type": "quantitative"}, "y": {"field": "intensity", "type": "quantitative"},
           "shape": {"field": "sample", "type": "nominal", "scale": {"domain": ["SLN₁", "NLC₁", "NLC₂", "NLC₃"], "range": ["M-1,0H-0.5M0.5,0H1M-0.5,0A0.5,0.5,0,1,1,0.5,0A0.5,0.5,0,1,1,-0.5,0Z", "M-1,0.05H-0.3M0.3,0.05H1M0,-0.48L0.55,0.42H-0.55Z", "M-1,0H-0.55M0.55,0H1M0,-0.55L0.55,0L0,0.55L-0.55,0Z", "M-1,0H-0.42M0.42,0H1M-0.42,-0.42H0.42V0.42H-0.42Z"]},
             "legend": {"title": null, "orient": "top-right", "offset": 3, "padding": 0, "labelFont": "Liberation Serif", "labelFontSize": 13, "labelColor": "#000000", "symbolSize": 169, "rowPadding": 5, "labelOffset": 2, "symbolStrokeWidth": 1.2, "symbolOpacity": 1}},
           "stroke": {"field": "sample", "type": "nominal", "scale": {"domain": ["SLN₁", "NLC₁", "NLC₂", "NLC₃"], "range": ["#1432ff", "#13a54b", "#000000", "#a6a6a6"]},
             "legend": {"title": null, "orient": "top-right", "offset": 3, "padding": 0, "labelFont": "Liberation Serif", "labelFontSize": 13, "labelColor": "#000000", "symbolSize": 169, "rowPadding": 5, "labelOffset": 2, "symbolStrokeWidth": 1.2, "symbolOpacity": 1}},
           "fill": {"field": "sample", "type": "nominal", "scale": {"domain": ["SLN₁", "NLC₁", "NLC₂", "NLC₃"], "range": ["#1432ff", "#13a54b", "#000000", "#a6a6a6"]},
             "legend": {"title": null, "orient": "top-right", "offset": 3, "padding": 0, "labelFont": "Liberation Serif", "labelFontSize": 13, "labelColor": "#000000", "symbolSize": 169, "rowPadding": 5, "labelOffset": 2, "symbolStrokeWidth": 1.2, "symbolOpacity": 1}}
         }},
        {"data": {"values": [{"t": "B", "px": 11.1, "py": 15.05}]},
         "mark": {"type": "text", "align": "left", "baseline": "alphabetic", "fontSize": 14, "fontWeight": "bold", "font": "Liberation Serif", "fill": "#000000", "opacity": 1},
         "encoding": {"x": {"field": "px", "type": "quantitative"}, "y": {"field": "py", "type": "quantitative"}, "text": {"field": "t", "type": "nominal"}}}
      ]
    },
    {
      "width": 328, "height": 274,
      "data": {"name": "C"},
      "layer": [
        {"transform": [{"filter": {"field": "sample", "equal": "SLN₂"}}], "mark": {"type": "line", "stroke": "#ff0000", "strokeWidth": 1},
         "encoding": {
           "x": {"field": "size", "type": "quantitative", "scale": {"type": "log", "domain": [10, 10000]}, "axis": {"title": "Particle size (nm)", "values": [10, 100, 1000, 10000], "format": "d"}},
           "y": {"field": "intensity", "type": "quantitative", "scale": {"domain": [0, 16], "nice": false}, "axis": {"title": "Intensity (%)", "values": [0, 2, 4, 6, 8, 10, 12, 14, 16], "format": "d", "labelExpr": "datum.value % 4 === 0 ? datum.label : ''"}}}},
        {"transform": [{"filter": {"field": "sample", "equal": "SLN₂"}}], "mark": {"type": "point", "shape": "circle", "filled": true, "fill": "#ff0000", "stroke": "#ff0000", "opacity": 1, "size": 70, "strokeWidth": 1}, "encoding": {"x": {"field": "size", "type": "quantitative"}, "y": {"field": "intensity", "type": "quantitative"}}},
        {"transform": [{"filter": {"field": "sample", "equal": "NLC₄"}}], "mark": {"type": "line", "stroke": "#ff0000", "strokeWidth": 1}, "encoding": {"x": {"field": "size", "type": "quantitative"}, "y": {"field": "intensity", "type": "quantitative"}}},
        {"transform": [{"filter": {"field": "sample", "equal": "NLC₄"}}], "mark": {"type": "point", "shape": "square", "filled": true, "fill": "#ff0000", "stroke": "#ff0000", "opacity": 1, "size": 66, "strokeWidth": 1}, "encoding": {"x": {"field": "size", "type": "quantitative"}, "y": {"field": "intensity", "type": "quantitative"}}},
        {"transform": [{"filter": {"field": "sample", "equal": "SLN₃"}}], "mark": {"type": "line", "stroke": "#7a7a7a", "strokeWidth": 1}, "encoding": {"x": {"field": "size", "type": "quantitative"}, "y": {"field": "intensity", "type": "quantitative"}}},
        {"transform": [{"filter": {"field": "sample", "equal": "SLN₃"}}], "mark": {"type": "point", "shape": "circle", "filled": true, "fill": "#7a7a7a", "stroke": "#7a7a7a", "opacity": 1, "size": 70, "strokeWidth": 1}, "encoding": {"x": {"field": "size", "type": "quantitative"}, "y": {"field": "intensity", "type": "quantitative"}}},
        {"transform": [{"filter": {"field": "sample", "equal": "NLC₅"}}], "mark": {"type": "line", "stroke": "#7a7a7a", "strokeWidth": 1}, "encoding": {"x": {"field": "size", "type": "quantitative"}, "y": {"field": "intensity", "type": "quantitative"}}},
        {"transform": [{"filter": {"field": "sample", "equal": "NLC₅"}}], "mark": {"type": "point", "shape": "square", "filled": true, "fill": "#7a7a7a", "stroke": "#7a7a7a", "opacity": 1, "size": 66, "strokeWidth": 1}, "encoding": {"x": {"field": "size", "type": "quantitative"}, "y": {"field": "intensity", "type": "quantitative"}}},
        {"transform": [{"filter": "false"}],
         "mark": {"type": "point", "filled": true, "opacity": 1, "strokeWidth": 1.2},
         "encoding": {
           "x": {"field": "size", "type": "quantitative"}, "y": {"field": "intensity", "type": "quantitative"},
           "shape": {"field": "sample", "type": "nominal", "scale": {"domain": ["SLN₂", "NLC₄", "SLN₃", "NLC₅"], "range": ["M-1,0H-0.5M0.5,0H1M-0.5,0A0.5,0.5,0,1,1,0.5,0A0.5,0.5,0,1,1,-0.5,0Z", "M-1,0H-0.42M0.42,0H1M-0.42,-0.42H0.42V0.42H-0.42Z", "M-1,0H-0.5M0.5,0H1M-0.5,0A0.5,0.5,0,1,1,0.5,0A0.5,0.5,0,1,1,-0.5,0Z", "M-1,0H-0.42M0.42,0H1M-0.42,-0.42H0.42V0.42H-0.42Z"]},
             "legend": {"title": null, "orient": "top-right", "offset": 3, "padding": 0, "labelFont": "Liberation Serif", "labelFontSize": 13, "labelColor": "#000000", "symbolSize": 169, "rowPadding": 5, "labelOffset": 2, "symbolStrokeWidth": 1.2, "symbolOpacity": 1}},
           "stroke": {"field": "sample", "type": "nominal", "scale": {"domain": ["SLN₂", "NLC₄", "SLN₃", "NLC₅"], "range": ["#ff0000", "#ff0000", "#7a7a7a", "#7a7a7a"]},
             "legend": {"title": null, "orient": "top-right", "offset": 3, "padding": 0, "labelFont": "Liberation Serif", "labelFontSize": 13, "labelColor": "#000000", "symbolSize": 169, "rowPadding": 5, "labelOffset": 2, "symbolStrokeWidth": 1.2, "symbolOpacity": 1}},
           "fill": {"field": "sample", "type": "nominal", "scale": {"domain": ["SLN₂", "NLC₄", "SLN₃", "NLC₅"], "range": ["#ff0000", "#ff0000", "#7a7a7a", "#7a7a7a"]},
             "legend": {"title": null, "orient": "top-right", "offset": 3, "padding": 0, "labelFont": "Liberation Serif", "labelFontSize": 13, "labelColor": "#000000", "symbolSize": 169, "rowPadding": 5, "labelOffset": 2, "symbolStrokeWidth": 1.2, "symbolOpacity": 1}}
         }},
        {"data": {"values": [{"t": "C", "px": 11.1, "py": 15.05}]},
         "mark": {"type": "text", "align": "left", "baseline": "alphabetic", "fontSize": 14, "fontWeight": "bold", "font": "Liberation Serif", "fill": "#000000", "opacity": 1},
         "encoding": {"x": {"field": "px", "type": "quantitative"}, "y": {"field": "py", "type": "quantitative"}, "text": {"field": "t", "type": "nominal"}}}
      ]
    },
    {
      "width": 328, "height": 274,
      "data": {"name": "D"},
      "layer": [
        {"transform": [{"filter": {"field": "sample", "equal": "SLN₁"}}], "mark": {"type": "line", "stroke": "#1432ff", "strokeWidth": 1},
         "encoding": {
           "x": {"field": "size", "type": "quantitative", "scale": {"type": "log", "domain": [10, 10000]}, "axis": {"title": "Particle size (nm)", "values": [10, 100, 1000, 10000], "format": "d"}},
           "y": {"field": "intensity", "type": "quantitative", "scale": {"domain": [0, 16], "nice": false}, "axis": {"title": "Intensity (%)", "values": [0, 2, 4, 6, 8, 10, 12, 14, 16], "format": "d", "labelExpr": "datum.value % 4 === 0 ? datum.label : ''"}}}},
        {"transform": [{"filter": {"field": "sample", "equal": "SLN₁"}}], "mark": {"type": "point", "shape": "circle", "filled": true, "fill": "#1432ff", "stroke": "#1432ff", "opacity": 1, "size": 62, "strokeWidth": 1.5}, "encoding": {"x": {"field": "size", "type": "quantitative"}, "y": {"field": "intensity", "type": "quantitative"}}},
        {"transform": [{"filter": {"field": "sample", "equal": "SLN₄"}}], "mark": {"type": "line", "stroke": "#ff1a1a", "strokeWidth": 1}, "encoding": {"x": {"field": "size", "type": "quantitative"}, "y": {"field": "intensity", "type": "quantitative"}}},
        {"transform": [{"filter": {"field": "sample", "equal": "SLN₄"}}], "mark": {"type": "point", "shape": "circle", "filled": true, "fill": "#1432ff", "stroke": "#ff1a1a", "opacity": 1, "size": 62, "strokeWidth": 1.5}, "encoding": {"x": {"field": "size", "type": "quantitative"}, "y": {"field": "intensity", "type": "quantitative"}}},
        {"transform": [{"filter": {"field": "sample", "equal": "SLN₅"}}], "mark": {"type": "line", "stroke": "#000000", "strokeWidth": 1}, "encoding": {"x": {"field": "size", "type": "quantitative"}, "y": {"field": "intensity", "type": "quantitative"}}},
        {"transform": [{"filter": {"field": "sample", "equal": "SLN₅"}}], "mark": {"type": "point", "shape": "circle", "filled": true, "fill": "#1432ff", "stroke": "#000000", "opacity": 1, "size": 62, "strokeWidth": 1.5}, "encoding": {"x": {"field": "size", "type": "quantitative"}, "y": {"field": "intensity", "type": "quantitative"}}},
        {"transform": [{"filter": "false"}],
         "mark": {"type": "point", "filled": true, "fill": "#1432ff", "opacity": 1, "strokeWidth": 1.5},
         "encoding": {
           "x": {"field": "size", "type": "quantitative"}, "y": {"field": "intensity", "type": "quantitative"},
           "shape": {"field": "sample", "type": "nominal", "scale": {"domain": ["SLN₁", "SLN₄", "SLN₅"], "range": ["M-1,0H-0.5M0.5,0H1M-0.5,0A0.5,0.5,0,1,1,0.5,0A0.5,0.5,0,1,1,-0.5,0Z", "M-1,0H-0.5M0.5,0H1M-0.5,0A0.5,0.5,0,1,1,0.5,0A0.5,0.5,0,1,1,-0.5,0Z", "M-1,0H-0.5M0.5,0H1M-0.5,0A0.5,0.5,0,1,1,0.5,0A0.5,0.5,0,1,1,-0.5,0Z"]},
             "legend": {"title": null, "orient": "top-right", "offset": 3, "padding": 0, "labelFont": "Liberation Serif", "labelFontSize": 13, "labelColor": "#000000", "symbolSize": 169, "rowPadding": 5, "labelOffset": 2, "symbolStrokeWidth": 1.5, "symbolOpacity": 1, "symbolFillColor": "#1432ff"}},
           "stroke": {"field": "sample", "type": "nominal", "scale": {"domain": ["SLN₁", "SLN₄", "SLN₅"], "range": ["#1432ff", "#ff1a1a", "#000000"]},
             "legend": {"title": null, "orient": "top-right", "offset": 3, "padding": 0, "labelFont": "Liberation Serif", "labelFontSize": 13, "labelColor": "#000000", "symbolSize": 169, "rowPadding": 5, "labelOffset": 2, "symbolStrokeWidth": 1.5, "symbolOpacity": 1, "symbolFillColor": "#1432ff"}}
         }},
        {"data": {"values": [{"t": "D", "px": 11.1, "py": 15.05}]},
         "mark": {"type": "text", "align": "left", "baseline": "alphabetic", "fontSize": 14, "fontWeight": "bold", "font": "Liberation Serif", "fill": "#000000", "opacity": 1},
         "encoding": {"x": {"field": "px", "type": "quantitative"}, "y": {"field": "py", "type": "quantitative"}, "text": {"field": "t", "type": "nominal"}}}
      ]
    }
  ],
  "resolve": {
    "scale": {"color": "independent", "fill": "independent", "stroke": "independent", "shape": "independent"},
    "legend": {"color": "independent", "fill": "independent", "stroke": "independent", "shape": "independent"}
  },
  "config": {
    "font": "Liberation Serif",
    "view": {"stroke": "#5a5a5a", "strokeWidth": 1},
    "axis": {
      "labelFont": "Liberation Serif", "labelFontSize": 13, "labelColor": "#000000",
      "titleFont": "Liberation Serif", "titleFontWeight": "bold", "titleColor": "#000000",
      "grid": false, "tickSize": 4, "tickColor": "#666666", "domainColor": "#555555"
    },
    "axisX": {"titleFontSize": 14, "titlePadding": 3, "labelPadding": 3, "labelFlush": false, "labelOverlap": false, "domainColor": "#444444"},
    "axisY": {"titleFontSize": 15, "titlePadding": 2, "labelPadding": 5, "domainColor": "#888888", "tickColor": "#888888"}
  }
}
